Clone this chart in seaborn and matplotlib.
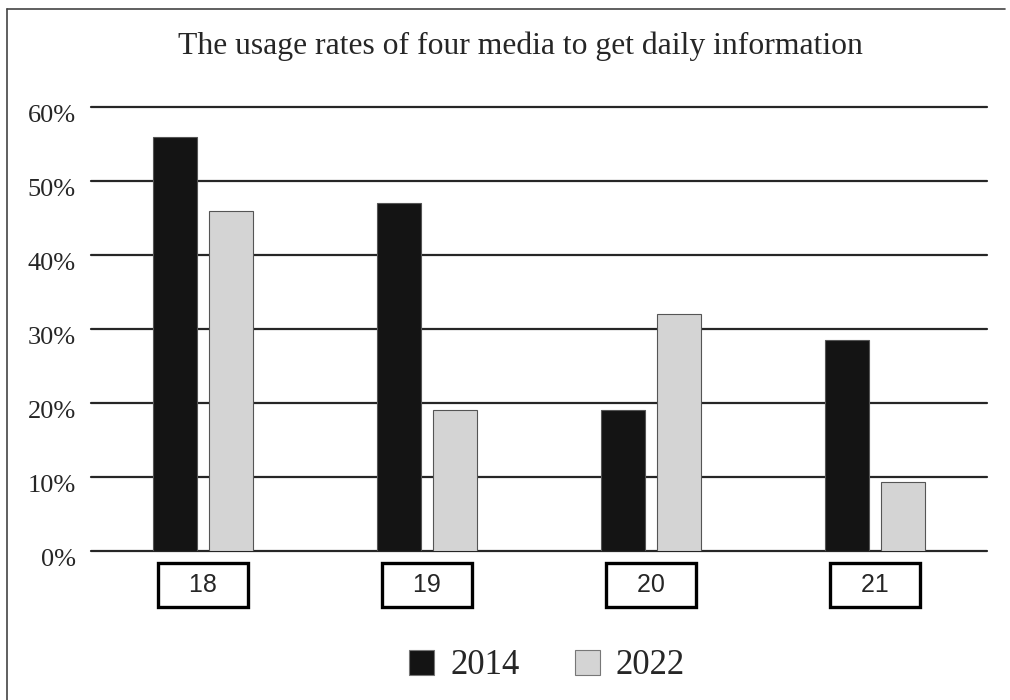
import matplotlib
matplotlib.use("Agg")
import matplotlib.pyplot as plt
import matplotlib.transforms as mtransforms
import seaborn as sns
import pandas as pd
from matplotlib.lines import Line2D

categories = ["18", "19", "20", "21"]
years = ["2014", "2022"]
values_2014 = [56, 47, 19, 28.5]
values_2022 = [46, 19, 32, 9.3]
y_ticks = [0, 10, 20, 30, 40, 50, 60]
y_tick_labels = ["0%", "10%", "20%", "30%", "40%", "50%", "60%"]
title = "The usage rates of four media to get daily information"

df = pd.DataFrame({
    "media": categories * 2,
    "year": [years[0]] * 4 + [years[1]] * 4,
    "rate": values_2014 + values_2022,
})

sns.set_theme(style="white")
plt.rcParams['font.family'] = ['Liberation Serif', 'DejaVu Serif']

W, H = 1010, 700
fig = plt.figure(figsize=(W / 100, H / 100), dpi=100)
ax_left, ax_right = 91, 987
ax_top, ax_bot = 107, 551
ax = fig.add_axes([ax_left / W, (H - ax_bot) / H, (ax_right - ax_left) / W, (ax_bot - ax_top) / H])

palette = {"2014": "#141414", "2022": "#d4d4d4"}
sns.barplot(data=df, x="media", y="rate", hue="year", hue_order=years,
            palette=palette, width=0.5, gap=0.2, ax=ax, saturation=1,
            edgecolor="#555555", linewidth=0.8, zorder=3)

ax.set_xlim(-0.5, 3.5)
ax.set_ylim(0, 60)
ax.set_yticks(y_ticks)
ax.set_yticklabels(y_tick_labels, fontsize=19, family=['Liberation Serif'])
for y in y_ticks:
    ax.axhline(y, color="#262626", lw=1.6, zorder=1, clip_on=False)
for s in ax.spines.values():
    s.set_visible(False)
ax.tick_params(axis="y", length=0, pad=11)
ax.tick_params(axis="x", length=0, pad=16)
ax.set_xlabel("")
ax.set_ylabel("")
ax.set_xticks(range(len(categories)))
ax.set_xticklabels(["   " + c + "   " for c in categories], fontsize=18, family=['Liberation Sans'])
for lab in ax.get_xticklabels():
    lab.set_horizontalalignment("center")
    lab.set_bbox(dict(boxstyle="square,pad=0.41", facecolor="white", edgecolor="black", linewidth=2.4))

offset = mtransforms.ScaledTranslation(0, -6 / 100, fig.dpi_scale_trans)
for tick in ax.yaxis.get_major_ticks():
    tick.label1.set_transform(tick.label1.get_transform() + offset)

fig.text(520 / W, 1 - 46 / H, title, ha="center", va="center", fontsize=22.8,
         family=['Liberation Serif'])

leg_handles = [plt.Rectangle((0, 0), 1, 1, facecolor=palette[y], edgecolor="#777777", linewidth=0.8) for y in years]
leg = fig.legend(leg_handles, years, loc="center", bbox_to_anchor=(547 / W, 1 - 666 / H),
                 ncol=2, frameon=False, handlelength=0.72, handleheight=0.72,
                 handletextpad=0.45, columnspacing=1.6, prop={'family': 'Liberation Serif', 'size': 25})
if ax.get_legend() is not None:
    ax.get_legend().remove()

# figure frame (top and left)
fig.add_artist(Line2D([7 / W, 7 / W], [0, 1 - 9 / H], color="#444444", lw=1.2, transform=fig.transFigure))
fig.add_artist(Line2D([7 / W, 1005 / W], [1 - 9 / H, 1 - 9 / H], color="#444444", lw=1.2, transform=fig.transFigure))

fig.savefig("out.png", dpi=100)
